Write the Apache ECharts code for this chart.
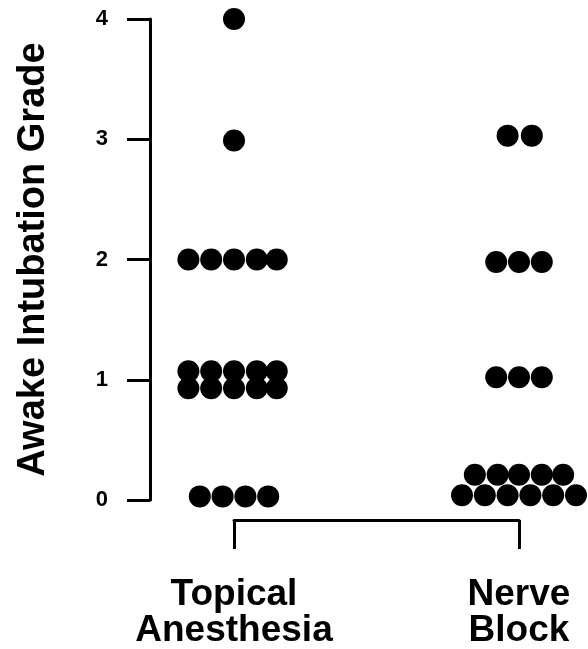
<!DOCTYPE html>
<html>
<head>
<meta charset="utf-8">
<script src="https://cdn.jsdelivr.net/npm/echarts@6/dist/echarts.min.js"></script>
<style>
  html, body { margin: 0; padding: 0; background: #fff; }
  #chart-container { width: 588px; height: 649px; }
</style>
</head>
<body>
<div id="chart-container"></div>
<script>
var categories = ["Topical\nAnesthesia", "Nerve\nBlock"];
var yTicks = [0, 1, 2, 3, 4];

// group 1 (Topical Anesthesia), x jittered around 1
var topicalX = [1.0, 1.0,
  0.84, 0.92, 1.0, 1.08, 1.15,
  0.84, 0.92, 1.0, 1.08, 1.15,
  0.84, 0.92, 1.0, 1.08, 1.15,
  0.88, 0.96, 1.04, 1.12];
var topicalY = [4, 2.99,
  2, 2, 2, 2, 2,
  1.07, 1.07, 1.07, 1.07, 1.07,
  0.93, 0.93, 0.93, 0.93, 0.93,
  0.03, 0.03, 0.03, 0.03];

// group 2 (Nerve Block), x jittered around 2
var nerveX = [1.96, 2.045,
  1.92, 2.0, 2.08,
  1.92, 2.0, 2.08,
  1.845, 1.925, 2.0, 2.08, 2.155,
  1.8, 1.88, 1.96, 2.04, 2.12, 2.2];
var nerveY = [3.03, 3.03,
  1.98, 1.98, 1.98,
  1.02, 1.02, 1.02,
  0.21, 0.21, 0.21, 0.21, 0.21,
  0.04, 0.04, 0.04, 0.04, 0.04, 0.04];

function pairs(xs, ys) {
  return xs.map(function (x, i) { return [x, ys[i]]; });
}

var dom = document.getElementById("chart-container");
var myChart = echarts.init(dom, null, { renderer: "canvas" });

var font = "'Liberation Sans', Arial, Helvetica, sans-serif";
var black = "#000";

var option = {
  animation: false,
  backgroundColor: "#fff",
  grid: { left: 234, right: 69, top: 19, bottom: 149, outerBoundsMode: "none" },
  xAxis: {
    type: "value",
    min: 1,
    max: 2,
    interval: 1,
    offset: 20,
    splitLine: { show: false },
    axisLine: { show: true, onZero: false, lineStyle: { color: black, width: 3 } },
    axisTick: { show: true, length: 29, lineStyle: { color: black, width: 3 } },
    axisLabel: {
      margin: 57,
      color: black,
      fontFamily: font,
      fontWeight: "bold",
      fontSize: 37,
      lineHeight: 36,
      formatter: function (v) { return categories[v - 1] || ""; }
    }
  },
  yAxis: {
    type: "value",
    min: 0,
    max: 4,
    interval: 1,
    offset: 84,
    name: "Awake Intubation Grade",
    nameLocation: "middle",
    nameGap: 97,
    nameTextStyle: {
      color: black,
      fontFamily: font,
      fontWeight: "bold",
      fontSize: 38
    },
    splitLine: { show: false },
    axisLine: { show: true, lineStyle: { color: black, width: 3 } },
    axisTick: { show: true, length: 23, lineStyle: { color: black, width: 3 } },
    axisLabel: {
      margin: 42,
      color: black,
      fontFamily: font,
      fontWeight: "bold",
      fontSize: 22,
      formatter: function (v) { return yTicks.indexOf(v) >= 0 ? String(v) : ""; }
    }
  },
  series: [
    {
      type: "scatter",
      clip: false,
      symbol: "circle",
      symbolSize: 22,
      itemStyle: { color: black, opacity: 1 },
      data: pairs(topicalX, topicalY)
    },
    {
      type: "scatter",
      clip: false,
      symbol: "circle",
      symbolSize: 22,
      itemStyle: { color: black, opacity: 1 },
      data: pairs(nerveX, nerveY)
    }
  ]
};

myChart.setOption(option);
</script>
</body>
</html>
